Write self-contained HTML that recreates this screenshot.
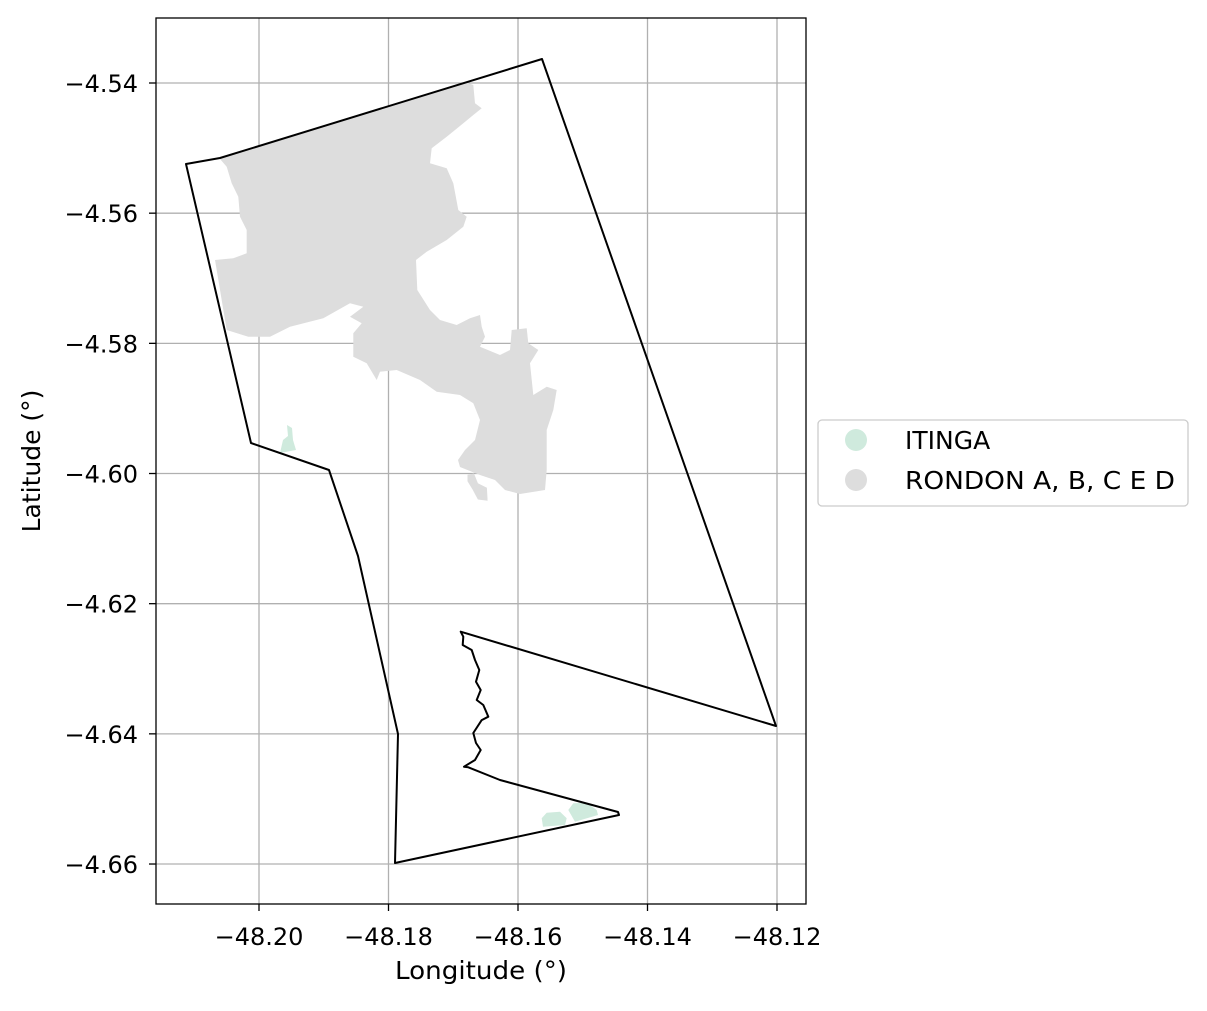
<!DOCTYPE html>
<html><head><meta charset="utf-8"><style>
body{margin:0;background:#fff;}
svg text{font-family:"DejaVu Sans","Liberation Sans",sans-serif;fill:#000;}
</style></head><body>
<svg id="chart" width="1207" height="1006" viewBox="0 0 1207 1006" xmlns="http://www.w3.org/2000/svg">
<g id="grid"></g>
<g id="shapes"></g>
<rect x="156" y="18" width="650" height="886" fill="none" stroke="#000" stroke-width="1.3"/>
<g id="ticks"></g>
<text x="481" y="979" font-size="25" text-anchor="middle" textLength="172" lengthAdjust="spacingAndGlyphs">Longitude (°)</text>
<text transform="translate(40,461) rotate(-90)" font-size="25" text-anchor="middle">Latitude (°)</text>
<g>
<rect x="818" y="420" width="370" height="86" rx="4" fill="#fff" stroke="#ccc" stroke-width="1.3"/>
<circle cx="856" cy="440" r="11" fill="#cfeadd"/>
<text x="905" y="449" font-size="25">ITINGA</text>
<circle cx="856" cy="480" r="11" fill="#dddddd"/>
<text x="905" y="489" font-size="25" textLength="270" lengthAdjust="spacingAndGlyphs">RONDON A, B, C E D</text>
</g>
</svg>
<script>
const xTicks=[-48.20,-48.18,-48.16,-48.14,-48.12];
const yTicks=[-4.54,-4.56,-4.58,-4.60,-4.62,-4.64,-4.66];
const outlineLon=[-48.21127,-48.20602,-48.15629,-48.12015,-48.16885,-48.16845,-48.16854,-48.16715,-48.16664,-48.16598,-48.16649,-48.16576,-48.16638,-48.16536,-48.16459,-48.16561,-48.16690,-48.16649,-48.16576,-48.16664,-48.16834,-48.16768,-48.16278,-48.14456,-48.14440,-48.17900,-48.17853,-48.18471,-48.18919,-48.20124];
const outlineLat=[-4.55245,-4.55152,-4.53631,-4.63880,-4.62431,-4.62508,-4.62635,-4.62712,-4.62866,-4.63019,-4.63199,-4.63327,-4.63480,-4.63557,-4.63737,-4.63788,-4.63987,-4.64141,-4.64248,-4.64402,-4.64505,-4.64514,-4.64709,-4.65201,-4.65247,-4.65985,-4.64003,-4.61268,-4.59946,-4.59531];
const rondonLon=[-48.20602,-48.16819,-48.16690,-48.16664,-48.16561,-48.16690,-48.16845,-48.17101,-48.17333,-48.17359,-48.17101,-48.16999,-48.16922,-48.16792,-48.16845,-48.17101,-48.17410,-48.17575,-48.17555,-48.17359,-48.17205,-48.16947,-48.16741,-48.16587,-48.16561,-48.16510,-48.16587,-48.16278,-48.16124,-48.16097,-48.15866,-48.15841,-48.15686,-48.15815,-48.15764,-48.15557,-48.15402,-48.15455,-48.15557,-48.15557,-48.15583,-48.15969,-48.16201,-48.16355,-48.16587,-48.16896,-48.16927,-48.16819,-48.16664,-48.16587,-48.16690,-48.16896,-48.17256,-48.17513,-48.17873,-48.18131,-48.18182,-48.18337,-48.18544,-48.18544,-48.18414,-48.18595,-48.18389,-48.18595,-48.19007,-48.19521,-48.19830,-48.20165,-48.20499,-48.20680,-48.20397,-48.20190,-48.20190,-48.20293,-48.20320,-48.20422,-48.20499];
const rondonLat=[-4.55168,-4.53980,-4.54031,-4.54312,-4.54389,-4.54492,-4.54619,-4.54825,-4.55003,-4.55234,-4.55311,-4.55541,-4.55951,-4.56054,-4.56208,-4.56412,-4.56592,-4.56720,-4.57181,-4.57488,-4.57642,-4.57718,-4.57615,-4.57565,-4.57744,-4.57898,-4.58052,-4.58179,-4.58102,-4.57795,-4.57769,-4.58000,-4.58102,-4.58307,-4.58794,-4.58666,-4.58717,-4.59024,-4.59332,-4.59946,-4.60254,-4.60315,-4.60254,-4.60100,-4.60023,-4.59900,-4.59793,-4.59639,-4.59485,-4.59178,-4.58921,-4.58794,-4.58743,-4.58563,-4.58410,-4.58436,-4.58563,-4.58307,-4.58205,-4.57846,-4.57692,-4.57591,-4.57437,-4.57385,-4.57615,-4.57744,-4.57898,-4.57898,-4.57795,-4.56720,-4.56693,-4.56617,-4.56259,-4.56054,-4.55747,-4.55541,-4.55286];
const rondonBitLon=[-48.16780,-48.16680,-48.16620,-48.16480,-48.16470,-48.16620,-48.16700,-48.16780];
const rondonBitLat=[-4.60020,-4.60000,-4.60150,-4.60220,-4.60420,-4.60400,-4.60250,-4.60120];
const itinga1Lon=[-48.19568,-48.19490,-48.19475,-48.19429,-48.19676,-48.19629,-48.19552];
const itinga1Lat=[-4.59255,-4.59301,-4.59485,-4.59639,-4.59685,-4.59485,-4.59424];
const itinga2Lon=[-48.15634,-48.15557,-48.15351,-48.15248,-48.15274,-48.15614];
const itinga2Lat=[-4.65298,-4.65212,-4.65196,-4.65298,-4.65401,-4.65427];
const itinga3Lon=[-48.15223,-48.15146,-48.14939,-48.14785,-48.14764,-48.15120];
const itinga3Lat=[-4.65170,-4.65067,-4.65058,-4.65170,-4.65247,-4.65350];

const NS='http://www.w3.org/2000/svg';
function xs(lon){return 259+(lon+48.20)/0.02*129.5;}
function ys(lat){return 83+(-4.54-lat)/0.02*130.17;}
function mk(tag,attrs,parent){const e=document.createElementNS(NS,tag);for(const k in attrs)e.setAttribute(k,attrs[k]);parent.appendChild(e);return e;}
function pts(lo,la){return lo.map((v,i)=>xs(v).toFixed(1)+','+ys(la[i]).toFixed(1)).join(' ');}
const grid=document.getElementById('grid'),ticks=document.getElementById('ticks'),shapes=document.getElementById('shapes');
xTicks.forEach(t=>{const x=xs(t);
 const g=mk('line',{x1:x,x2:x,y1:18,y2:904,stroke:'#b0b0b0','stroke-width':1.3},grid);
 
 
 const tk=mk('line',{x1:x,x2:x,y1:904,y2:911,stroke:'#000','stroke-width':1.3},ticks);
 
 
 const tx=mk('text',{x:x,y:945,'font-size':24,'text-anchor':'middle'},ticks);
 tx.textContent='\u2212'+Math.abs(t).toFixed(2);
 
 
});
yTicks.forEach(t=>{const y=ys(t);
 const g=mk('line',{x1:156,x2:806,y1:y,y2:y,stroke:'#b0b0b0','stroke-width':1.3},grid);
 
 
 const tk=mk('line',{x1:149,x2:156,y1:y,y2:y,stroke:'#000','stroke-width':1.3},ticks);
 
 
 const tx=mk('text',{x:138,y:y+9,'font-size':24,'text-anchor':'end'},ticks);
 tx.textContent='\u2212'+Math.abs(t).toFixed(2);
 
 
});
const r=mk('polygon',{points:pts(rondonLon,rondonLat),fill:'#dddddd'},shapes);


const rb=mk('polygon',{points:pts(rondonBitLon,rondonBitLat),fill:'#dddddd'},shapes);


[[itinga1Lon,itinga1Lat],[itinga2Lon,itinga2Lat],[itinga3Lon,itinga3Lat]].forEach(p=>{
 const e=mk('polygon',{points:pts(p[0],p[1]),fill:'#cfeadd'},shapes);
 
 
});
const o=mk('polygon',{points:pts(outlineLon,outlineLat),fill:'none',stroke:'#000','stroke-width':2,'stroke-linejoin':'round'},shapes);


</script>
</body></html>
